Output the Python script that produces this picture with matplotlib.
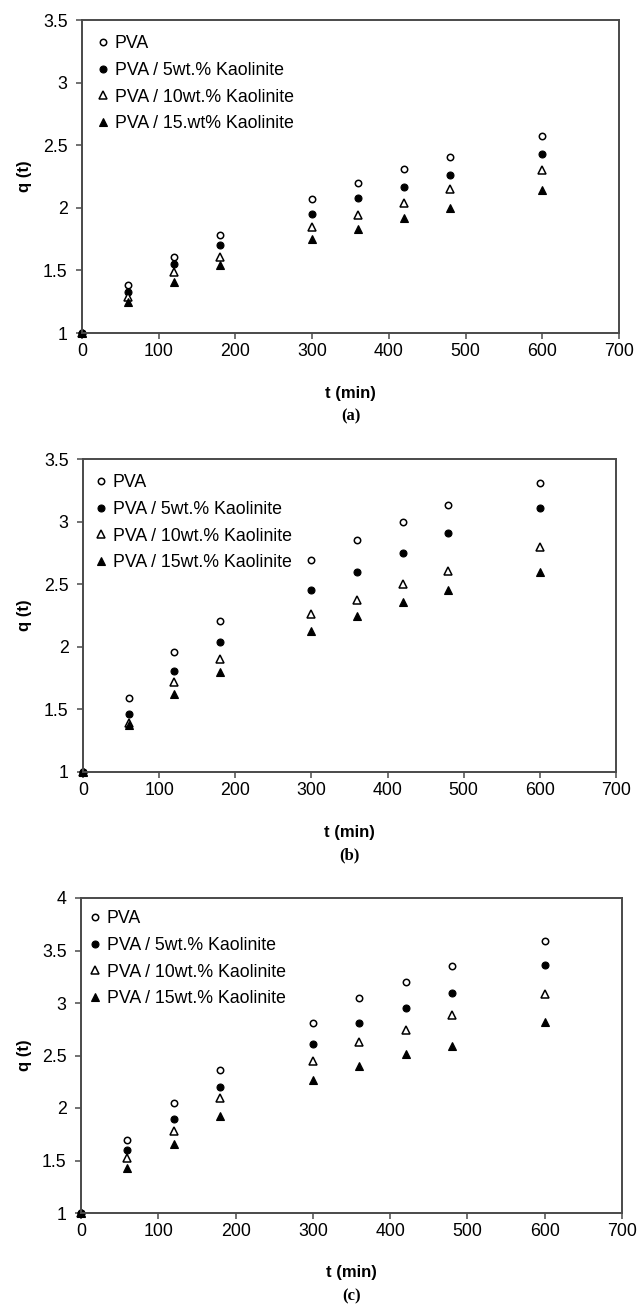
import matplotlib
matplotlib.use("Agg")
import matplotlib.pyplot as plt
from matplotlib.ticker import MultipleLocator

plt.rcParams['font.family'] = ['Liberation Sans', 'DejaVu Sans']

# Sampling times (min)
t = [0, 60, 120, 180, 300, 360, 420, 480, 600]

# (a)
a_pva = [1.0, 1.385, 1.61, 1.785, 2.07, 2.195, 2.31, 2.405, 2.575]
a_k5 = [1.0, 1.33, 1.55, 1.70, 1.95, 2.075, 2.165, 2.26, 2.43]
a_k10 = [1.0, 1.29, 1.485, 1.61, 1.85, 1.945, 2.04, 2.15, 2.30]
a_k15 = [1.0, 1.245, 1.41, 1.54, 1.75, 1.83, 1.92, 1.995, 2.145]
a_labels = ["PVA", "PVA / 5wt.% Kaolinite", "PVA / 10wt.% Kaolinite",
            "PVA / 15.wt% Kaolinite"]

# (b)
b_pva = [1.0, 1.59, 1.96, 2.205, 2.69, 2.85, 3.00, 3.135, 3.305]
b_k5 = [1.0, 1.465, 1.81, 2.035, 2.45, 2.60, 2.75, 2.905, 3.11]
b_k10 = [1.0, 1.395, 1.72, 1.90, 2.26, 2.375, 2.50, 2.605, 2.80]
b_k15 = [1.0, 1.375, 1.62, 1.80, 2.13, 2.245, 2.355, 2.45, 2.595]
b_labels = ["PVA", "PVA / 5wt.% Kaolinite", "PVA / 10wt.% Kaolinite",
            "PVA / 15wt.% Kaolinite"]

# (c)
c_pva = [1.0, 1.70, 2.05, 2.36, 2.81, 3.05, 3.20, 3.35, 3.595]
c_k5 = [1.0, 1.60, 1.90, 2.20, 2.61, 2.81, 2.955, 3.095, 3.365]
c_k10 = [1.0, 1.52, 1.78, 2.10, 2.45, 2.63, 2.74, 2.885, 3.09]
c_k15 = [1.0, 1.43, 1.66, 1.92, 2.265, 2.40, 2.515, 2.595, 2.815]
c_labels = b_labels

panel_tags = ["(a)", "(b)", "(c)"]
y_limits = [(1, 3.5), (1, 3.5), (1, 4)]

W, H = 637, 1305
fig = plt.figure(figsize=(W / 100, H / 100), dpi=100)

# axes boxes in pixels: left, top, right, bottom
boxes = [(82, 20, 619, 333), (83, 459, 616, 772), (81, 898, 622, 1213)]
# legend anchor (pixels from the axes' top-left corner)
legend_offsets = [(14, 15), (11, 15), (7, 12)]

series_sets = [(a_pva, a_k5, a_k10, a_k15), (b_pva, b_k5, b_k10, b_k15),
               (c_pva, c_k5, c_k10, c_k15)]
label_sets = [a_labels, b_labels, c_labels]

styles = [
    dict(marker='o', mfc='white', mec='black', ms=4.6, mew=1.1),
    dict(marker='o', mfc='black', mec='black', ms=5.0, mew=0.8),
    dict(marker='^', mfc='white', mec='black', ms=5.2, mew=1.1),
    dict(marker='^', mfc='black', mec='black', ms=5.6, mew=0.8),
]

frame_col = '#4a4a4a'
fs = 12.8

for i in range(3):
    l, tp, r, b = boxes[i]
    w_px, h_px = r - l, b - tp
    ax = fig.add_axes([l / W, 1 - b / H, w_px / W, h_px / H])
    for ys, lab, st in zip(series_sets[i], label_sets[i], styles):
        ax.plot(t, ys, linestyle='none', label=lab, clip_on=False, **st)
    ax.set_xlim(0, 700)
    ax.set_ylim(*y_limits[i])
    ax.xaxis.set_major_locator(MultipleLocator(100))
    ax.yaxis.set_major_locator(MultipleLocator(0.5))
    ax.yaxis.set_major_formatter(plt.FuncFormatter(lambda v, p: f"{v:g}"))
    for s in ax.spines.values():
        s.set_color(frame_col)
        s.set_linewidth(1.4)
    ax.tick_params(direction='out', length=4.3, width=1.1, color=frame_col,
                   labelsize=fs)
    ax.tick_params(axis='x', pad=3)
    ax.tick_params(axis='y', pad=6)

    ax.set_xlabel("t (min)", fontsize=12, fontweight='bold')
    ax.xaxis.label.set_va('center')
    ax.xaxis.set_label_coords(0.5, -60 / h_px)
    ax.set_ylabel("q (t)", fontsize=12, fontweight='bold')
    ax.yaxis.label.set_va('center')
    ax.yaxis.set_label_coords(-(l - 25) / w_px, 0.5)

    dx, dy = legend_offsets[i]
    ax.legend(loc='upper left', bbox_to_anchor=(dx / w_px, 1 - dy / h_px),
              frameon=False, fontsize=fs, handlelength=0.8,
              handletextpad=0.25, labelspacing=0.55, borderaxespad=0,
              borderpad=0, numpoints=1)
    fig.text((l + r) / 2 / W, 1 - (b + 83) / H, panel_tags[i],
             ha='center', va='center', fontsize=12, fontweight='bold',
             family='Liberation Serif')

fig.savefig("out.png", dpi=100)
